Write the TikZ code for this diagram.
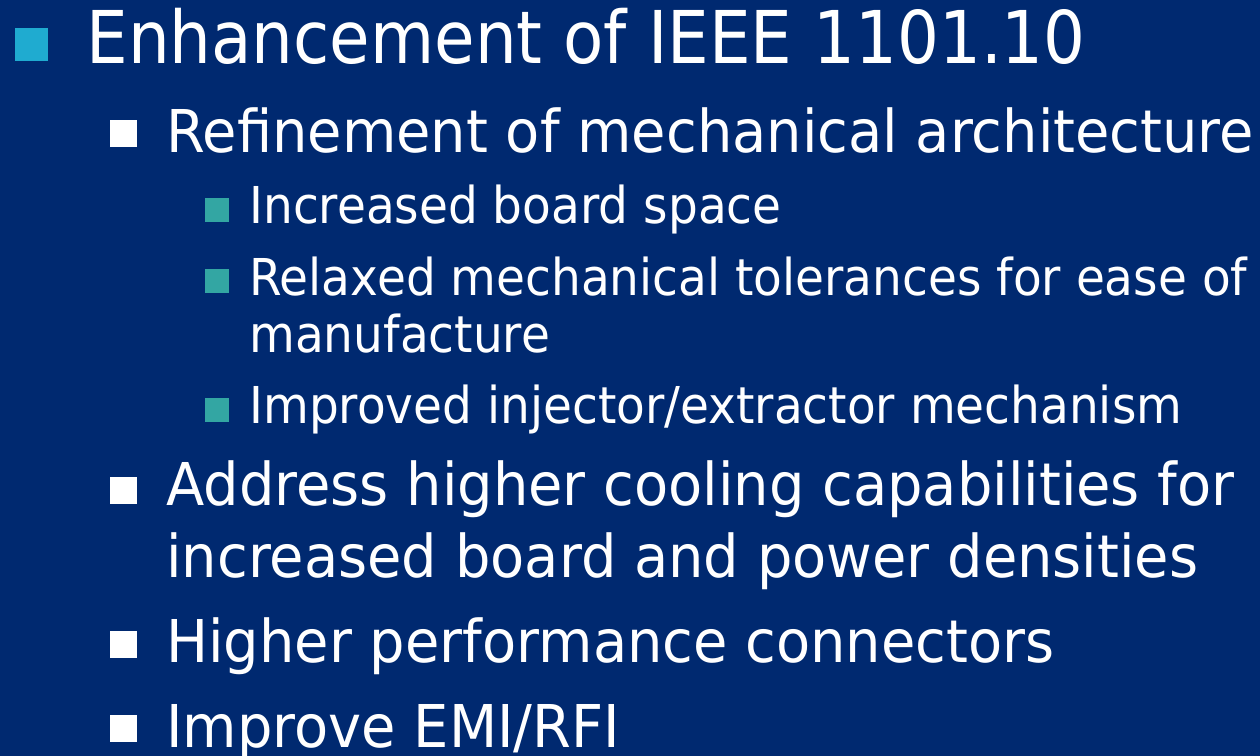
\documentclass[tikz,border=0pt]{standalone}
\usepackage{fontspec}
\setmainfont{DejaVu Sans}[FakeStretch=0.905]
\newfontfamily\lvltwofont{DejaVu Sans}[FakeStretch=0.947]
\newfontfamily\lvlthreefont{DejaVu Sans}[FakeStretch=0.925]
\usepackage{xcolor}
\definecolor{slidebg}{RGB}{0,41,112}
\definecolor{bulletcyan}{RGB}{31,171,208}
\definecolor{bulletteal}{RGB}{51,166,163}
\tikzset{
  lvlone/.style={anchor=base west, inner sep=0pt, text=white, font=\fontsize{36.4}{40}\selectfont},
  lvltwo/.style={anchor=base west, inner sep=0pt, text=white, font=\lvltwofont\fontsize{29.5}{33}\selectfont},
  lvlthree/.style={anchor=base west, inner sep=0pt, text=white, font=\lvlthreefont\fontsize{25.4}{29}\selectfont},
  bulone/.style={fill=bulletcyan, inner sep=0pt, minimum size=16.5pt},
  bultwo/.style={fill=white, inner sep=0pt, minimum size=13.5pt},
  bulthree/.style={fill=bulletteal, inner sep=0pt, minimum size=12pt}
}

\begin{document}
\begin{tikzpicture}[x=0.5pt, y=-0.5pt]
\fill[slidebg] (0,0) rectangle (1260,756);
\useasboundingbox (0,0) rectangle (1260,756);

% first level
\node[bulone] (b1) at (31.5,44.5) {};
\node[lvlone] (t1) at (86,63) {Enhancement of IEEE 1101.10};

% second level
\node[bultwo] (b2) at (123.5,133) {};
\node[lvltwo] (t2) at (166,152) {Refinement of mechanical architecture};

% third level
\node[bulthree] (b3) at (216.5,209.5) {};
\node[lvlthree] (t3) at (249,223) {Increased board space};
\node[bulthree] (b4) at (216.5,281) {};
\node[lvlthree] (t4) at (249,295) {Relaxed mechanical tolerances for ease of};
\node[lvlthree] (t4b) at (249,352) {manufacture};
\node[bulthree] (b5) at (216.5,410) {};
\node[lvlthree] (t5) at (249,423) {Improved injector/extractor mechanism};

% back to second level
\node[bultwo] (b6) at (123.5,490) {};
\node[lvltwo] (t6) at (166,505) {Address higher cooling capabilities for};
\node[lvltwo] (t6b) at (166,577) {increased board and power densities};
\node[bultwo] (b7) at (123.5,644) {};
\node[lvltwo] (t7) at (166,662) {Higher performance connectors};
\node[bultwo] (b8) at (123.5,728.5) {};
\node[lvltwo] (t8) at (166,747) {Improve EMI/RFI};
\end{tikzpicture}
\end{document}
